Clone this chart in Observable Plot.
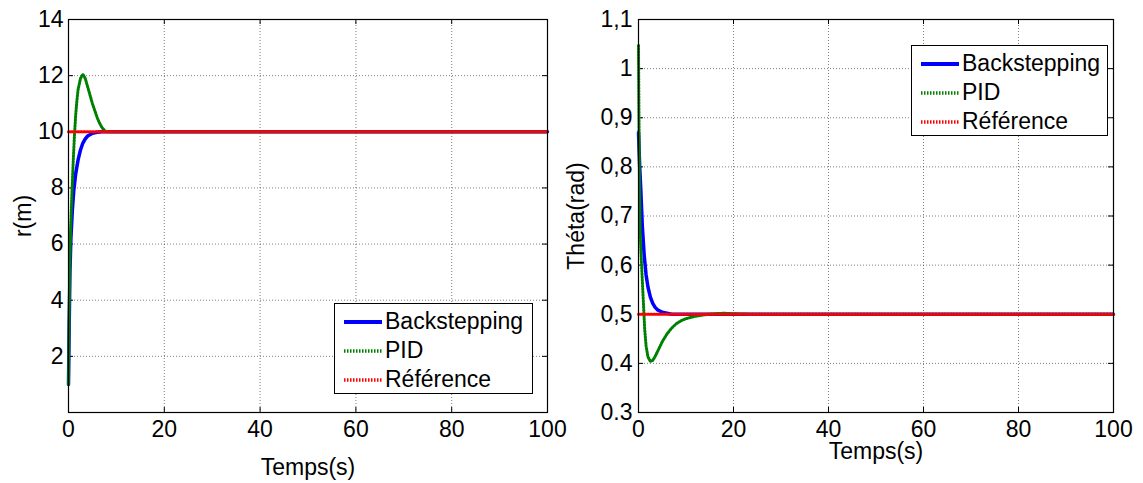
<!DOCTYPE html>
<html>
<head>
<meta charset="utf-8">
<script src="https://cdn.jsdelivr.net/npm/d3@7"></script>
<script src="https://cdn.jsdelivr.net/npm/@observablehq/plot@0.6"></script>
<style>
  body { margin: 0; background: #fff; }
  #wrap { position: relative; width: 1143px; height: 483px; font-family: "Liberation Sans", Arial, sans-serif; }
  .panel { position: absolute; top: 0; }
  .legend { position: absolute; background: #fff; border: 1px solid #000; box-sizing: border-box; font-size: 23px; color: #000; }
  .legend .row { position: absolute; left: 0; height: 0; }
  .legend svg { position: absolute; left: 8px; top: -5px; }
  .legend span { position: absolute; left: 50px; top: -14px; white-space: nowrap; line-height: 27px; }
</style>
</head>
<body>
<div id="wrap"></div>
<script>
// Time axis (shared)
const timeTicks = [0, 20, 40, 60, 80, 100];

// r(m) panel — distance response
const rTicks = [2, 4, 6, 8, 10, 12, 14];
const rBackT = [0, 0.15, 0.3, 0.5, 0.8, 1.1, 1.5, 2, 2.5, 3, 3.5, 4, 5, 6, 7, 100];
const rBackV = [1, 3.2, 5.0, 6.2, 7.2, 7.9, 8.5, 9.0, 9.35, 9.6, 9.75, 9.85, 9.95, 9.98, 10, 10];
const rPidT = [0, 0.15, 0.3, 0.5, 0.75, 1.0, 1.25, 1.5, 1.75, 2.0, 2.5, 3.0, 3.5, 4.0, 4.5, 5.0, 5.5, 6.0, 6.5, 7.0, 7.5, 8.0, 100];
const rPidV = [1, 3.5, 5.5, 6.8, 8.0, 9.0, 9.9, 10.6, 11.1, 11.5, 11.9, 12.05, 11.9, 11.6, 11.3, 11.0, 10.75, 10.5, 10.3, 10.15, 10.05, 10.0, 10.0];
const rRefT = [0, 100];
const rRefV = [10, 10];

// Théta(rad) panel — angle response
const thTicks = [0.3, 0.4, 0.5, 0.6, 0.7, 0.8, 0.9, 1.0, 1.1];
const thTickLabels = ["0.3", "0.4", "0,5", "0,6", "0,7", "0,8", "0,9", "1", "1,1"];
const thBackT = [0, 0.25, 0.5, 0.8, 1.2, 1.6, 2.0, 2.5, 3.0, 3.5, 4.0, 5.0, 6.0, 7.0, 100];
const thBackV = [0.87, 0.80, 0.75, 0.68, 0.62, 0.58, 0.555, 0.535, 0.522, 0.514, 0.509, 0.504, 0.502, 0.5, 0.5];
const thPidT = [0, 0.1, 0.2, 0.35, 0.5, 0.7, 1.0, 1.3, 1.6, 2.0, 2.5, 3.0, 3.5, 4.0, 5.0, 6.0, 7.0, 8.0, 9.0, 10.0, 12.0, 14.0, 16.0, 18.0, 20.0, 24.0, 100];
const thPidV = [1.047, 0.9, 0.78, 0.67, 0.63, 0.59, 0.53, 0.47, 0.435, 0.413, 0.404, 0.406, 0.414, 0.424, 0.444, 0.46, 0.472, 0.481, 0.487, 0.491, 0.496, 0.499, 0.501, 0.502, 0.501, 0.5, 0.5];
const thRefT = [0, 100];
const thRefV = [0.5, 0.5];

const seriesNames = ["Backstepping", "PID", "Référence"];
const seriesColors = ["#0000ff", "#008000", "#ff0000"];
const seriesWidths = [3.5, 3, 3];
const seriesDash = [null, "1.5,1.5", "1.5,1.5"];

const FS = 23;
const zip = (ts, vs) => ts.map((t, i) => ({t, v: vs[i]}));

function panel(o) {
  const H = 483 - o.marginTop - o.marginBottom;
  const W = o.width - o.marginLeft - o.marginRight;
  const grid = {stroke: "#000", strokeOpacity: 0.5, strokeWidth: 1, strokeDasharray: "1,2"};
  const lines = o.series.map((d, i) => Plot.line(d, {
    x: "t", y: "v", stroke: seriesColors[i], strokeWidth: seriesWidths[i],
    strokeDasharray: seriesDash[i] ?? undefined
  }));
  return Plot.plot({
    width: o.width, height: 483,
    marginLeft: o.marginLeft, marginRight: o.marginRight,
    marginTop: o.marginTop, marginBottom: o.marginBottom,
    style: {fontFamily: "'Liberation Sans', Arial, sans-serif", fontSize: FS + "px", background: "transparent", overflow: "visible", color: "#000"},
    x: {domain: [0, 100], label: null},
    y: {domain: o.yDomain, label: null},
    marks: [
      Plot.ruleX(timeTicks, grid),
      Plot.ruleY(o.yTicks, grid),
      // inward tick marks on all four sides
      Plot.ruleX(timeTicks, {stroke: "#000", insetTop: H - 5}),
      Plot.ruleX(timeTicks, {stroke: "#000", insetBottom: H - 5}),
      Plot.ruleY(o.yTicks, {stroke: "#000", insetRight: W - 5}),
      Plot.ruleY(o.yTicks, {stroke: "#000", insetLeft: W - 5}),
      ...lines,
      Plot.frame({stroke: "#000", strokeWidth: 1.2}),
      Plot.axisX(timeTicks, {tickSize: 0, tickPadding: 8, fontSize: FS, label: null}),
      Plot.axisY(o.yTicks, {tickSize: 0, tickPadding: o.yPad, fontSize: FS, label: null, tickFormat: o.yFormat}),
      Plot.text(["Temps(s)"], {frameAnchor: "bottom", dy: o.xLabelDy, fontSize: FS, textAnchor: "middle", lineAnchor: "middle"}),
      Plot.text([o.yLabel], {frameAnchor: "left", dx: o.yLabelDx, rotate: -90, fontSize: FS, textAnchor: "middle", lineAnchor: "middle"})
    ]
  });
}

function legend(left, top, width) {
  const box = document.createElement("div");
  box.className = "legend";
  Object.assign(box.style, {left: left + "px", top: top + "px", width: width + "px", height: "91px"});
  const rowY = [18, 47, 76];
  seriesNames.forEach((name, i) => {
    const row = document.createElement("div");
    row.className = "row";
    row.style.top = rowY[i] + "px";
    const svg = d3.create("svg").attr("width", 40).attr("height", 10);
    svg.append("line").attr("x1", 1).attr("x2", 39).attr("y1", 5).attr("y2", 5)
      .attr("stroke", seriesColors[i]).attr("stroke-width", seriesWidths[i] + 0.5)
      .attr("stroke-dasharray", seriesDash[i]);
    row.appendChild(svg.node());
    const label = document.createElement("span");
    label.textContent = name;
    row.appendChild(label);
    box.appendChild(row);
  });
  return box;
}

const wrap = document.getElementById("wrap");

const left = panel({
  width: 571, marginLeft: 68, marginRight: 24, marginTop: 19, marginBottom: 71,
  yDomain: [0, 14], yTicks: rTicks, yFormat: d => String(d), yPad: 5,
  series: [zip(rBackT, rBackV), zip(rPidT, rPidV), zip(rRefT, rRefV)],
  yLabel: "r(m)", yLabelDx: -45, xLabelDy: 55
});
left.classList.add("panel");
left.style.left = "0px";
wrap.appendChild(left);

const right = panel({
  width: 572, marginLeft: 67, marginRight: 30, marginTop: 19, marginBottom: 71,
  yDomain: [0.3, 1.1], yTicks: thTicks, yFormat: d => thTickLabels[thTicks.findIndex(v => Math.abs(v - d) < 1e-9)], yPad: 6,
  series: [zip(thBackT, thBackV), zip(thPidT, thPidV), zip(thRefT, thRefV)],
  yLabel: "Théta(rad)", yLabelDx: -62, xLabelDy: 39
});
right.classList.add("panel");
right.style.left = "571px";
wrap.appendChild(right);

wrap.appendChild(legend(334, 303, 199));
wrap.appendChild(legend(911, 45, 197));
</script>
</body>
</html>
